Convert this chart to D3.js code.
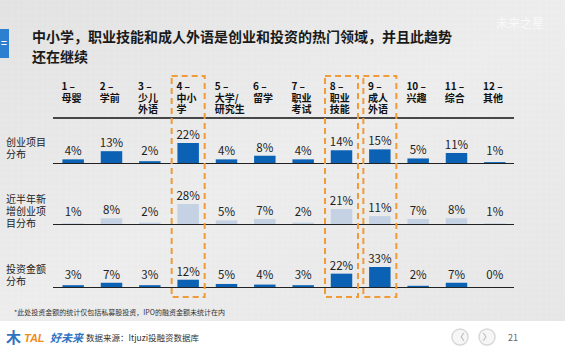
<!DOCTYPE html>
<html>
<head>
<meta charset="utf-8">
<script src="https://cdn.jsdelivr.net/npm/d3@7"></script>
<style>
  html, body { margin: 0; padding: 0; background: #fff; }
  svg { display: block; font-family: "Noto Sans CJK SC", "Noto Sans", sans-serif; }
</style>
</head>
<body>
<div id="chart"></div>
<script>
// 数据
const categories = ['1', '2', '3', '4', '5', '6', '7', '8', '9', '10', '11', '12'];
const headerLabels = [
  ['1 –', '母婴'], ['2 –', '学前'], ['3 –', '少儿', '外语'], ['4 –', '中小', '学'],
  ['5 –', '大学/', '研究生'], ['6 –', '留学'], ['7 –', '职业', '考试'], ['8 –', '职业', '技能'],
  ['9 –', '成人', '外语'], ['10 –', '兴趣'], ['11 –', '综合'], ['12 –', '其他']
];
const rowNames = [['创业项目', '分布'], ['近半年新', '增创业项', '目分布'], ['投资金额', '分布']];
const projectShare = [4, 13, 2, 22, 4, 8, 4, 14, 15, 5, 11, 1];
const recentShare = [1, 8, 2, 28, 5, 7, 2, 21, 11, 7, 8, 1];
const investShare = [3, 7, 3, 12, 5, 4, 3, 22, 33, 2, 7, 0];
const highlighted = ['4', '8', '9'];

const width = 565, height = 353;
const svg = d3.select('#chart').append('svg')
  .attr('width', width)
  .attr('height', height);

// 背景
const defs = svg.append('defs');
const grad = defs.append('linearGradient').attr('id', 'bg').attr('x1', 0).attr('y1', 0).attr('x2', 1).attr('y2', 1);
grad.append('stop').attr('offset', '0%').attr('stop-color', '#e2e2e2');
grad.append('stop').attr('offset', '50%').attr('stop-color', '#ececec');
grad.append('stop').attr('offset', '100%').attr('stop-color', '#e6e6e6');
svg.append('rect').attr('width', width).attr('height', 321).attr('fill', 'url(#bg)');
// 细网格
const grid = svg.append('g').attr('stroke', '#ffffff').attr('stroke-opacity', 0.25).attr('stroke-width', 0.5);
d3.range(0, width, 6).forEach(x => grid.append('line').attr('x1', x).attr('x2', x).attr('y1', 0).attr('y2', 321));
d3.range(0, 321, 6).forEach(y => grid.append('line').attr('x1', 0).attr('x2', width).attr('y1', y).attr('y2', y));

// 页脚
svg.append('rect').attr('y', 321).attr('width', width).attr('height', height - 321).attr('fill', '#ffffff');

// 水印
svg.append('text').attr('x', 520).attr('y', 28).attr('font-size', 12).attr('fill', '#ffffff').attr('fill-opacity', 0.7)
  .attr('text-anchor', 'middle').text('未来之星');

// 标题
svg.append('rect').attr('x', 0).attr('y', 29).attr('width', 9).attr('height', 29).attr('fill', '#2d7fd0');
svg.append('text').attr('x', 1).attr('y', 47).attr('fill', '#fff').attr('font-size', 10).attr('font-weight', 'bold').text('=');
const title = svg.append('text').attr('x', 32).attr('font-size', 14).attr('font-weight', 'bold').attr('fill', '#1a1a1a');
title.append('tspan').attr('x', 32).attr('y', 42).text('中小学，职业技能和成人外语是创业和投资的热门领域，并且此趋势');
title.append('tspan').attr('x', 32).attr('y', 62).text('还在继续');

// 比例尺
const x = d3.scaleBand().domain(categories).range([54, 514]).paddingInner(0.44).paddingOuter(0.22);

// 表头
const header = svg.append('g').attr('font-size', 10).attr('font-weight', 'bold').attr('fill', '#111');
categories.forEach((c, i) => {
  const t = header.append('text');
  headerLabels[i].forEach((line, j) => {
    t.append('tspan').attr('x', x(c) - 1).attr('y', 90 + j * 11.5).text(line);
  });
});
svg.append('line').attr('x1', 53).attr('x2', 514).attr('y1', 118).attr('y2', 118)
  .attr('stroke', '#111').attr('stroke-width', 1.5);

// 行
const rows = [
  { values: projectShare, base: 163, color: '#0b62b5', names: rowNames[0], nameY: 146 },
  { values: recentShare, base: 224, color: '#c4d2e3', names: rowNames[1], nameY: 203 },
  { values: investShare, base: 287, color: '#0b62b5', names: rowNames[2], nameY: 273 }
];

rows.forEach(row => {
  const y = d3.scaleLinear().domain([0, d3.max(row.values)]).range([row.base, row.base - 20]);
  const g = svg.append('g');
  g.selectAll('rect').data(row.values).join('rect')
    .attr('x', (d, i) => x(categories[i]))
    .attr('y', d => y(d))
    .attr('width', x.bandwidth())
    .attr('height', d => row.base - y(d))
    .attr('fill', row.color);
  g.selectAll('text.val').data(row.values).join('text')
    .attr('class', 'val')
    .attr('x', (d, i) => x(categories[i]) + x.bandwidth() / 2)
    .attr('y', d => Math.min(y(d), row.base - 4) - 4)
    .attr('text-anchor', 'middle')
    .attr('font-size', 11.5)
    .attr('fill', '#222')
    .text(d => d + '%');
  g.append('line').attr('x1', 53).attr('x2', 514).attr('y1', row.base + 0.5).attr('y2', row.base + 0.5)
    .attr('stroke', '#222').attr('stroke-width', 1);
  const name = g.append('text').attr('font-size', 10).attr('fill', '#222');
  row.names.forEach((line, j) => {
    name.append('tspan').attr('x', 6).attr('y', row.nameY + j * 12).text(line);
  });
});

// 高亮框
highlighted.forEach(c => {
  const cx = x(c) + x.bandwidth() / 2;
  const w = 32;
  svg.append('rect')
    .attr('x', cx - w / 2 - 0.5).attr('y', 76)
    .attr('width', w + 1).attr('height', 221)
    .attr('fill', 'none')
    .attr('stroke', '#f19a38')
    .attr('stroke-width', 2)
    .attr('stroke-dasharray', '6,4');
});

// 注释
svg.append('text').attr('x', 14).attr('y', 315).attr('font-size', 7).attr('fill', '#333')
  .text('*此处投资金额的统计仅包括私募股投资，IPO的融资金额未统计在内');

// 页脚 logo
const logo = svg.append('g');
logo.append('text').attr('x', 6).attr('y', 343).attr('font-size', 15).attr('font-weight', 'bold').attr('fill', '#2f73c2').text('木');
logo.append('text').attr('x', 24).attr('y', 342).attr('font-size', 11).attr('font-weight', 'bold').attr('font-style', 'italic')
  .attr('fill', '#f08a1c').attr('font-family', 'Liberation Sans, Arial, sans-serif').text('TAL');
logo.append('text').attr('x', 50).attr('y', 342).attr('font-size', 11).attr('font-weight', 'bold').attr('font-style', 'italic')
  .attr('fill', '#2f73c2').text('好未来');
svg.append('text').attr('x', 86).attr('y', 341).attr('font-size', 8.5).attr('fill', '#333').text('数据来源：Itjuzi投融资数据库');

// 翻页按钮
[460, 487].forEach((cx, i) => {
  svg.append('circle').attr('cx', cx).attr('cy', 337).attr('r', 8)
    .attr('fill', '#f6f6f6').attr('stroke', '#d8d8d8').attr('stroke-width', 1.5);
  svg.append('text').attr('x', cx).attr('y', 340).attr('text-anchor', 'middle').attr('font-size', 9).attr('fill', '#999')
    .text(i === 0 ? '〈' : '〉');
});
svg.append('text').attr('x', 508).attr('y', 341).attr('font-size', 9).attr('fill', '#666').text('21');
</script>
</body>
</html>
